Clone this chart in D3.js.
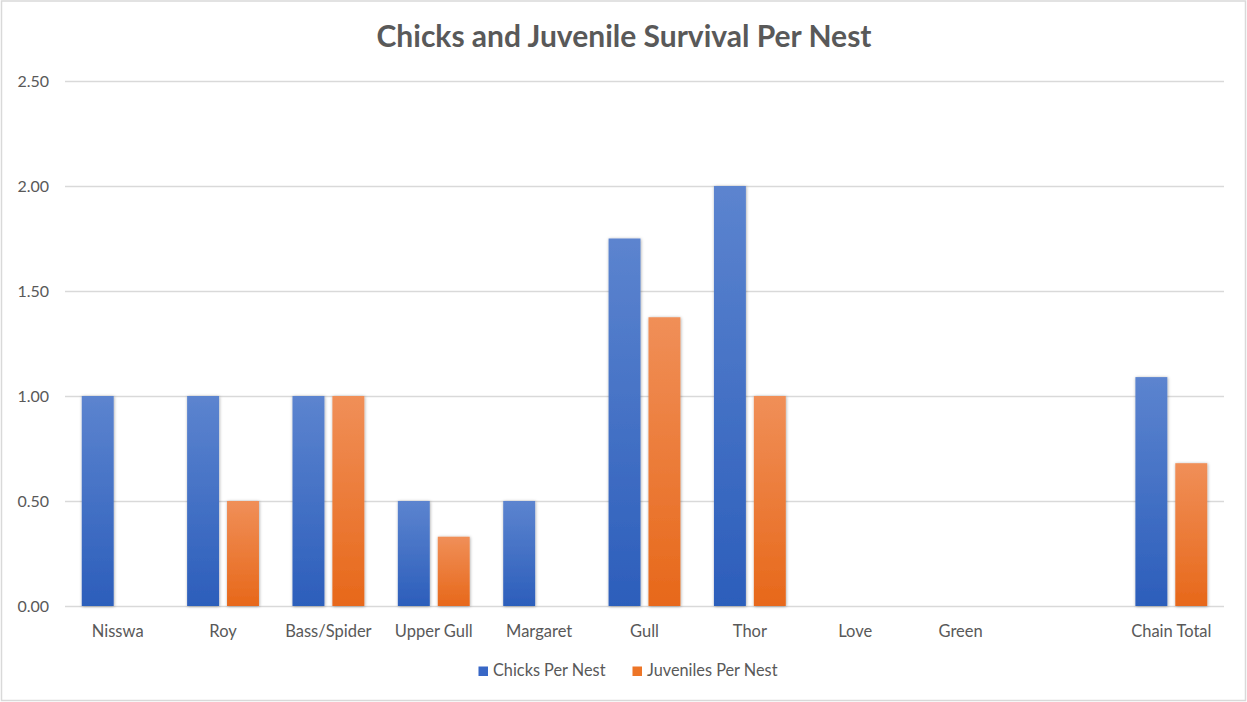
<!DOCTYPE html>
<html>
<head>
<meta charset="utf-8">
<script src="https://cdn.jsdelivr.net/npm/d3@7"></script>
<style>
  html, body { margin: 0; padding: 0; background: #fff; }
  svg { display: block; }
  text { font-family: Lato, "Open Sans", "Liberation Sans", sans-serif; }
</style>
</head>
<body>
<svg id="chart" width="1247" height="702"></svg>
<script>
const categories = ["Nisswa", "Roy", "Bass/Spider", "Upper Gull", "Margaret", "Gull", "Thor", "Love", "Green", "", "Chain Total"];
const chicksPerNest    = [1.00, 1.00, 1.00, 0.50, 0.50, 1.75, 2.00, 0, 0, null, 1.09];
const juvenilesPerNest = [0, 0.50, 1.00, 0.33, 0, 1.375, 1.00, 0, 0, null, 0.68];
const seriesNames = ["Chicks Per Nest", "Juveniles Per Nest"];
const yTicks = [0, 0.5, 1.0, 1.5, 2.0, 2.5];
const titleText = "Chicks and Juvenile Survival Per Nest";

const W = 1247, H = 702;
const svg = d3.select("#chart");
const margin = { left: 65, right: 23, top: 81, bottom: 96 };
const plotW = W - margin.left - margin.right;
const plotH = H - margin.top - margin.bottom;

// border
svg.append("rect").attr("x", 1.5).attr("y", 1).attr("width", W - 3).attr("height", H - 2.5)
  .attr("fill", "#fff").attr("stroke", "#d9d9d9").attr("stroke-width", 1.5);

const defs = svg.append("defs");
function grad(id, top, bottom) {
  const g = defs.append("linearGradient").attr("id", id).attr("x1", 0).attr("y1", 0).attr("x2", 0).attr("y2", 1);
  g.append("stop").attr("offset", "0%").attr("stop-color", top);
  g.append("stop").attr("offset", "100%").attr("stop-color", bottom);
}
grad("gBlue", "#5c84cf", "#2c5ebb");
grad("gOrange", "#f08f58", "#e7681a");
const f = defs.append("filter").attr("id", "shadow").attr("x", "-30%").attr("y", "-10%").attr("width", "160%").attr("height", "120%");
f.append("feDropShadow").attr("dx", 0.5).attr("dy", 0.5).attr("stdDeviation", 1.6)
  .attr("flood-color", "#000").attr("flood-opacity", 0.35);

const x = d3.scaleBand().domain(d3.range(categories.length)).range([margin.left, margin.left + plotW]).paddingInner(0).paddingOuter(0);
const y = d3.scaleLinear().domain([0, 2.5]).range([margin.top + plotH, margin.top]);
const xs = d3.scaleBand().domain([0, 1]).range([0, x.bandwidth()]).paddingInner(0.2).paddingOuter(0.42);

// gridlines
const yAxis = d3.axisLeft(y).tickValues(yTicks).tickFormat(d3.format(".2f")).tickSize(-plotW).tickPadding(15);
const gy = svg.append("g").attr("transform", `translate(${margin.left},0)`).call(yAxis);
gy.select(".domain").remove();
gy.selectAll(".tick line").attr("stroke", "#d9d9d9").attr("stroke-width", 1.3);
gy.selectAll(".tick text").attr("fill", "#595959").attr("font-size", 16).attr("x", -16);

// bars
const colors = ["url(#gBlue)", "url(#gOrange)"];
const series = [chicksPerNest, juvenilesPerNest];
series.forEach((vals, si) => {
  svg.append("g").selectAll("rect")
    .data(vals.map((v, i) => ({ v, i })).filter(d => d.v !== null && d.v > 0))
    .join("rect")
    .attr("x", d => x(d.i) + xs(si))
    .attr("width", xs.bandwidth())
    .attr("y", d => y(d.v))
    .attr("height", d => y(0) - y(d.v))
    .attr("fill", colors[si])
    .attr("filter", "url(#shadow)");
});

// x axis labels
const xAxis = d3.axisBottom(x).tickFormat(i => categories[i]).tickSize(0).tickPadding(19);
const gx = svg.append("g").attr("transform", `translate(0,${y(0)})`).call(xAxis);
gx.select(".domain").remove();
gx.selectAll(".tick text").attr("fill", "#595959").attr("font-size", 16.5);

// title
svg.append("text").attr("x", 624).attr("y", 47).attr("text-anchor", "middle")
  .attr("font-size", 30).attr("font-weight", "bold").attr("fill", "#595959").text(titleText);

// legend
const legendFill = ["#3867c6", "#ed7527"];
const lg = svg.append("g");
let cx = 0;
seriesNames.forEach((name, i) => {
  const g = lg.append("g").attr("transform", `translate(${cx},0)`);
  g.append("rect").attr("x", 0).attr("y", -9.5).attr("width", 9.5).attr("height", 9.5).attr("fill", legendFill[i]);
  const t = g.append("text").attr("x", 14.5).attr("y", 0).attr("font-size", 16.3).attr("fill", "#595959").text(name);
  cx += 14.5 + t.node().getComputedTextLength() + 27;
});
const totalW = cx - 27;
lg.attr("transform", `translate(${628 - totalW / 2},676)`);
</script>
</body>
</html>
